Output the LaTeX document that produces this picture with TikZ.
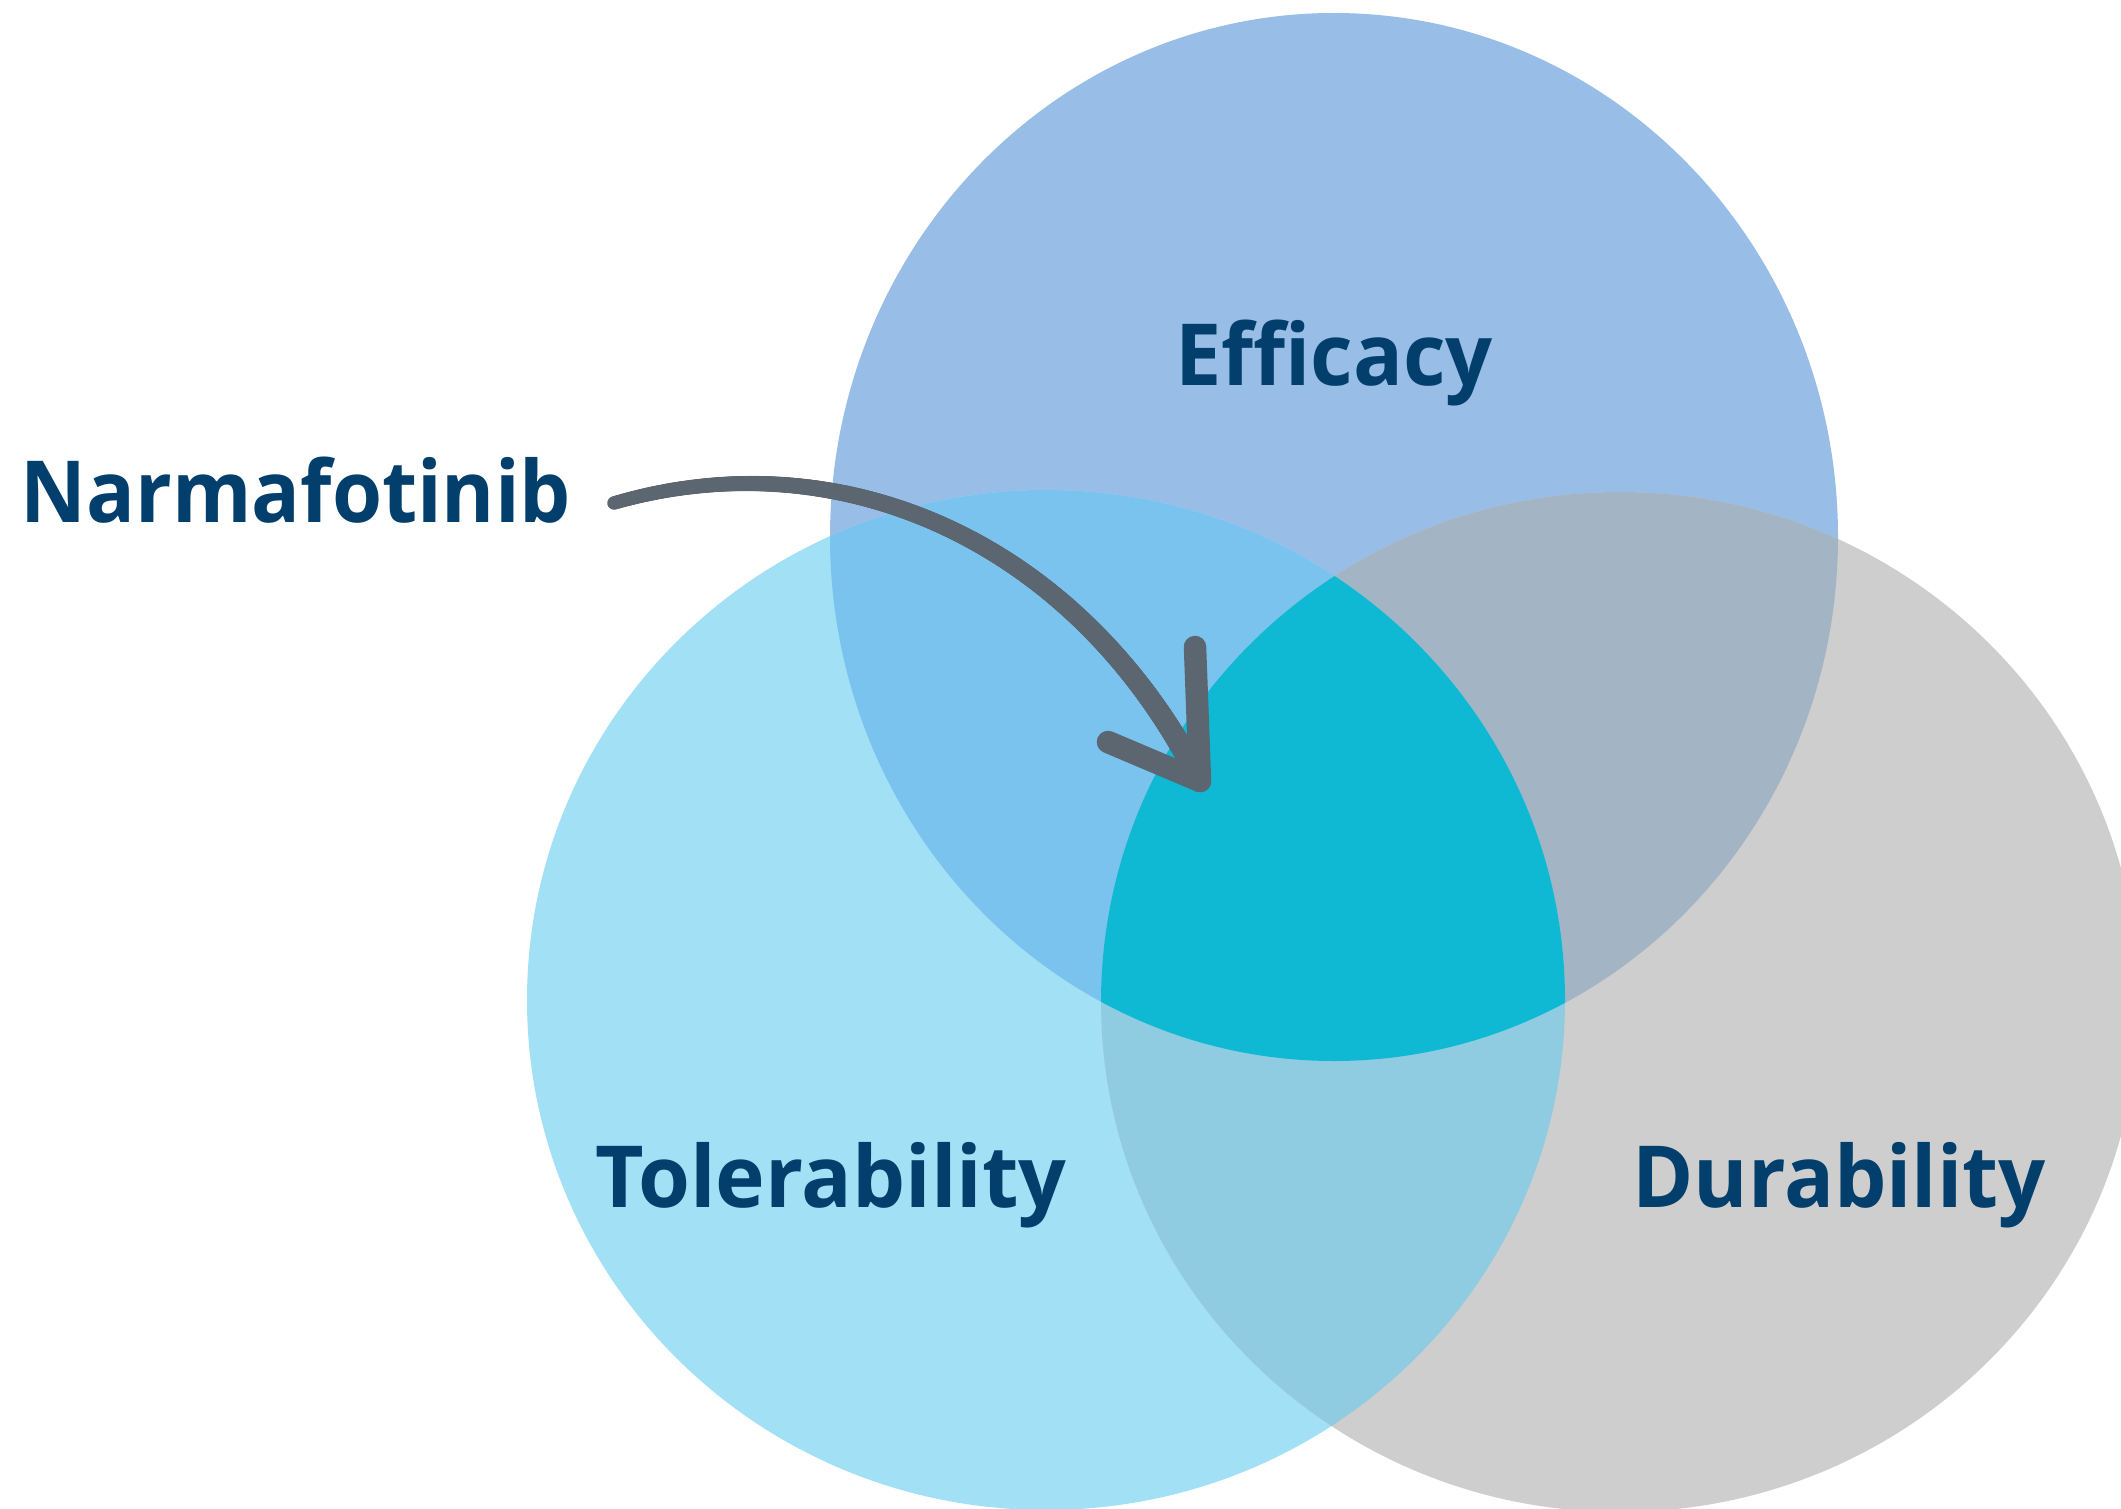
\documentclass[tikz,border=0pt]{standalone}
\usepackage{fontspec}
\setmainfont{Open Sans}
\usetikzlibrary{decorations.markings}
\definecolor{effc}{HTML}{98BDE6}
\definecolor{tolc}{HTML}{A2E0F5}
\definecolor{durc}{HTML}{CECECE}
\definecolor{efftol}{HTML}{7AC3EE}
\definecolor{effdur}{HTML}{A3B4C4}
\definecolor{toldur}{HTML}{8FCCE2}
\definecolor{allc}{HTML}{10B9D3}
\definecolor{txtc}{HTML}{023F6D}
\definecolor{arrc}{HTML}{5B6670}
\begin{document}
\begin{tikzpicture}[x=1bp,y=-1bp,
  lbl/.style={font=\fontsize{86}{100}\selectfont\bfseries, text=txtc, inner sep=0pt, anchor=base},
  headline/.style={draw=arrc, line width=22.5bp, line cap=round, line join=round}]
\def\effpath{(1334,537) ellipse [x radius=504, y radius=524]}
\def\tolpath{(1046,1000) ellipse [x radius=519, y radius=510]}
\def\durpath{(1620,1002) ellipse [x radius=519, y radius=510]}
\useasboundingbox (0,0) rectangle (2121,1509);
\fill[white] (0,0) rectangle (2121,1509);
% base circles
\fill[effc] \effpath;
\fill[tolc] \tolpath;
\fill[durc] \durpath;
% pairwise overlaps
\begin{scope}
  \clip \effpath;
  \fill[efftol] \tolpath;
  \fill[effdur] \durpath;
\end{scope}
\begin{scope}
  \clip \tolpath;
  \fill[toldur] \durpath;
\end{scope}
% triple overlap
\begin{scope}
  \clip \effpath;
  \clip \tolpath;
  \fill[allc] \durpath;
\end{scope}
% labels
\node[lbl] (narm) at (296,522) {\scalebox{0.945}[1]{Narmafotinib}};
\node[lbl] (eff) at (1334,385) {\scalebox{0.966}[1]{Efficacy}};
\node[lbl] (tol) at (831,1207) {\scalebox{0.98}[1]{Tolerability}};
\node[lbl] (dur) at (1839,1207) {\scalebox{0.968}[1]{Durability}};
% arrow
\coordinate (astart) at (614,503);
\coordinate (atip) at (1200,781);
\coordinate (hv) at (1195,647);
\coordinate (hl) at (1108,742);
\path[decorate, decoration={markings,
  mark=between positions 0 and 1 step 1.5bp with {
    \pgfmathsetmacro{\rr}{6.75+4.5*\pgfkeysvalueof{/pgf/decoration/mark info/distance from start}/\pgfdecoratedpathlength}
    \fill[arrc] (0,0) circle [radius=\rr bp];
  }}]
  (astart) .. controls (845,436) and (1080,545) .. (atip);
\draw[headline] (hv) -- (atip) -- (hl);
\end{tikzpicture}
\end{document}
